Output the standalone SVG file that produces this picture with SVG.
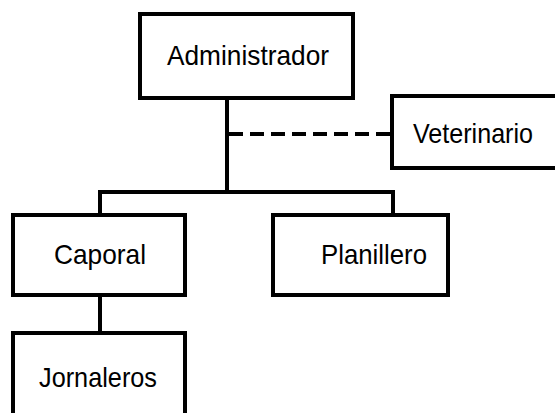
<svg xmlns="http://www.w3.org/2000/svg" width="555" height="413" viewBox="0 0 555 413">
<style>
.box{fill:#fff;stroke:#000;stroke-width:4}
.lbl{font-family:"Liberation Sans",Arial,sans-serif;font-size:28px;fill:#000;text-anchor:middle}
.ln{fill:none;stroke:#000;stroke-width:4}
.dash{fill:none;stroke:#000;stroke-width:4;stroke-dasharray:14,7}
</style>
<rect width="555" height="413" fill="#fff"/>
<g id="connectors">
<path class="ln" d="M227 98 V192 M100 192 H393 M100 190 V215 M393 190 V215 M100 295 V333"/>
<path class="dash" d="M229 134 H392"/>
</g>
<g id="administrador"><rect class="box" x="140" y="14" width="213" height="84"/><text class="lbl" x="248" y="65" textLength="162" lengthAdjust="spacingAndGlyphs">Administrador</text></g>
<g id="veterinario"><rect class="box" x="392" y="96" width="170" height="72"/><text class="lbl" x="473" y="143" textLength="120" lengthAdjust="spacingAndGlyphs">Veterinario</text></g>
<g id="caporal"><rect class="box" x="13" y="215" width="172" height="80"/><text class="lbl" x="100" y="264" textLength="92" lengthAdjust="spacingAndGlyphs">Caporal</text></g>
<g id="planillero"><rect class="box" x="273" y="215" width="175" height="80"/><text class="lbl" x="374" y="264" textLength="106" lengthAdjust="spacingAndGlyphs">Planillero</text></g>
<g id="jornaleros"><rect class="box" x="13" y="333" width="172" height="90"/><text class="lbl" x="98" y="387" textLength="118" lengthAdjust="spacingAndGlyphs">Jornaleros</text></g>
</svg>
